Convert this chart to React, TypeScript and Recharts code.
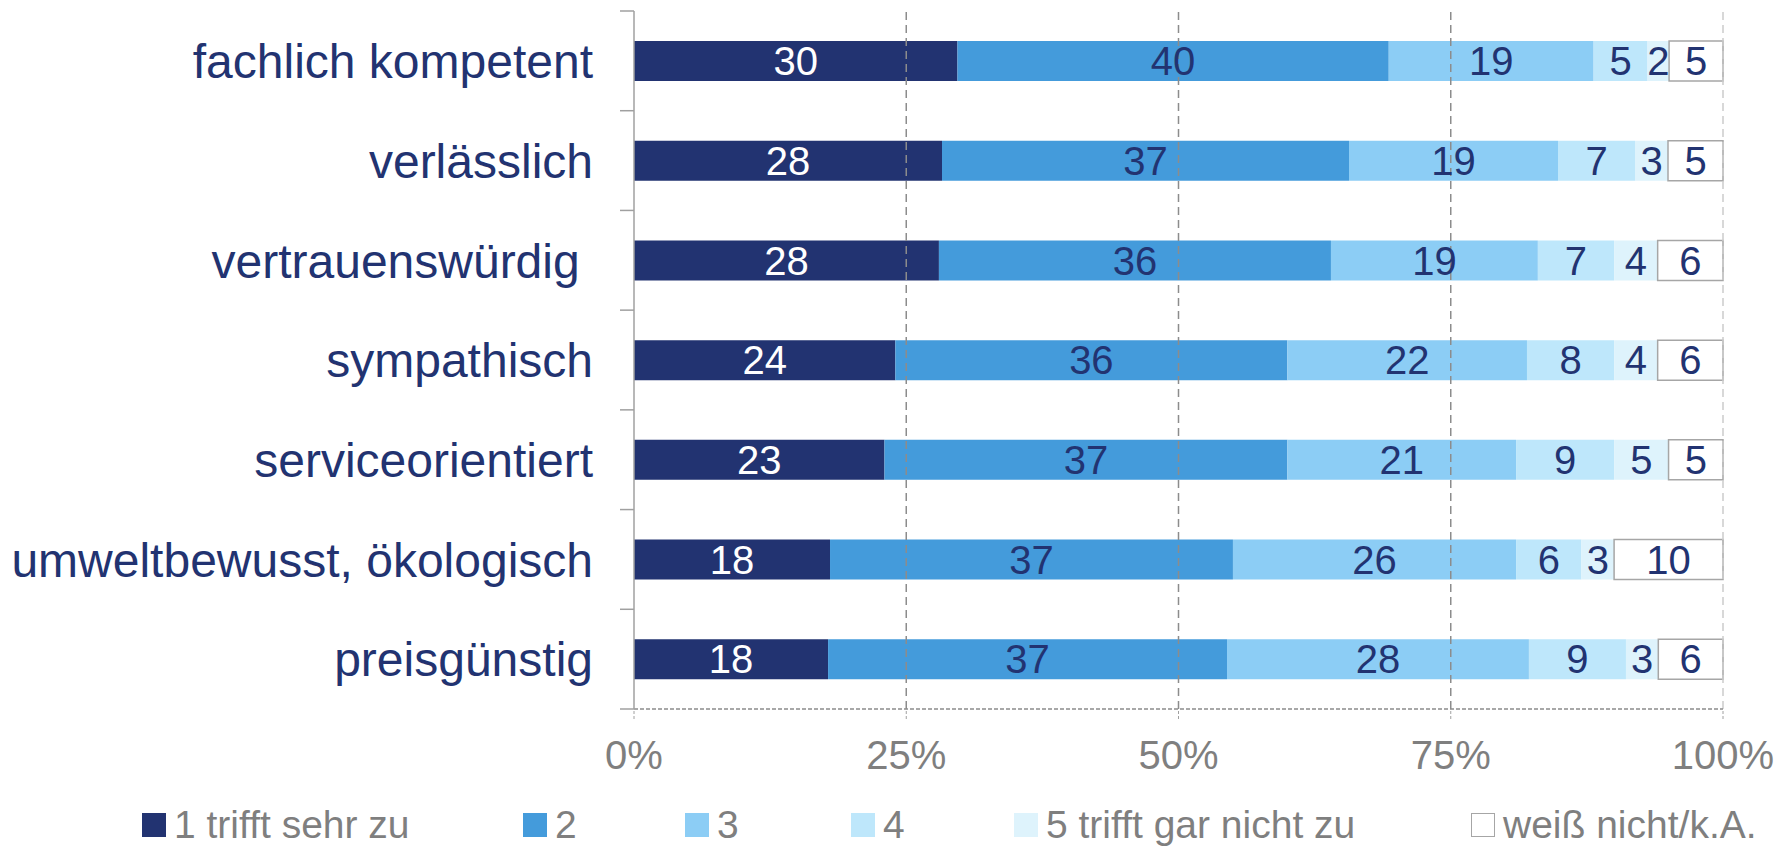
import { BarChart, Bar, XAxis, YAxis, ReferenceLine, LabelList, Legend } from 'recharts'

const categories = [
  'fachlich kompetent',
  'verlässlich',
  'vertrauenswürdig ',
  'sympathisch',
  'serviceorientiert',
  'umweltbewusst, ökologisch',
  'preisgünstig',
]

const s1 = [30, 28, 28, 24, 23, 18, 18]
const s2 = [40, 37, 36, 36, 37, 37, 37]
const s3 = [19, 19, 19, 22, 21, 26, 28]
const s4 = [5, 7, 7, 8, 9, 6, 9]
const s5 = [2, 3, 4, 4, 5, 3, 3]
const s6 = [5, 5, 6, 6, 5, 10, 6]

const seriesNames = ['1 trifft sehr zu', '2', '3', '4', '5 trifft gar nicht zu', 'weiß nicht/k.A.']
const xTicks = [0, 0.25, 0.5, 0.75, 1]

const data = categories.map((name, i) => ({
  name,
  s1: s1[i],
  s2: s2[i],
  s3: s3[i],
  s4: s4[i],
  s5: s5[i],
  s6: s6[i],
}))

const NAVY = '#223371'
const GRAY = '#7f7f7f'
const FONT = '"Liberation Sans", Arial, sans-serif'

const series = [
  { key: 's1', fill: NAVY, label: '#ffffff' },
  { key: 's2', fill: '#449bdb', label: NAVY },
  { key: 's3', fill: '#8ccdf5', label: NAVY },
  { key: 's4', fill: '#bee7fb', label: NAVY },
  { key: 's5', fill: '#def3fc', label: NAVY },
  { key: 's6', fill: '#ffffff', label: NAVY, stroke: '#a6a6a6' },
]

const legendLeft = [142, 523, 685, 851, 1014, 1471]

function YTick(props: any) {
  const { y, payload, index } = props
  const half = payload && payload.offset ? payload.offset : 49.8
  const axisX = 634
  return (
    <g>
      <line x1={axisX - 14} x2={axisX} y1={y - half} y2={y - half} stroke="#a0a0a0" strokeWidth={1.5} />
      {index === categories.length - 1 && (
        <line x1={axisX - 14} x2={axisX} y1={y + half} y2={y + half} stroke="#a0a0a0" strokeWidth={1.5} />
      )}
      <text
        x={593}
        y={y}
        dy="0.36em"
        textAnchor="end"
        fill={NAVY}
        fontSize={48}
        fontFamily={FONT}
        style={{ whiteSpace: 'pre' }}
      >
        {payload.value}
      </text>
    </g>
  )
}

function LegendContent() {
  return (
    <div style={{ position: 'relative', width: 1791, height: 46, fontFamily: FONT }}>
      {series.map((s, i) => (
        <div key={s.key} style={{ position: 'absolute', left: legendLeft[i], top: 13, height: 24, display: 'flex', alignItems: 'center' }}>
          <div
            style={{
              width: 24,
              height: 24,
              boxSizing: 'border-box',
              background: s.fill,
              border: s.stroke ? `1.5px solid ${s.stroke}` : 'none',
              marginRight: 8,
            }}
          />
          <span style={{ fontSize: 39, color: GRAY, lineHeight: '24px', whiteSpace: 'nowrap' }}>{seriesNames[i]}</span>
        </div>
      ))}
    </div>
  )
}

export default function App() {
  return (
    <div style={{ position: 'absolute', left: 0, top: 0, background: '#fff' }}>
      <BarChart
        width={1791}
        height={846}
        data={data}
        layout="vertical"
        stackOffset="expand"
        margin={{ top: 11, right: 68, bottom: 0, left: 0 }}
      >
        <XAxis
          type="number"
          domain={[0, 1]}
          ticks={xTicks}
          tickFormatter={(v: number) => `${Math.round(v * 100)}%`}
          axisLine={{ stroke: '#8c8c8c', strokeDasharray: '4 2', strokeWidth: 1.5 }}
          tickLine={{ stroke: '#a0a0a0', strokeDasharray: '3 2' }}
          tickSize={10}
          tickMargin={22}
          height={91}
          tick={{ fill: GRAY, fontSize: 40, fontFamily: FONT }}
        />
        <YAxis
          type="category"
          dataKey="name"
          width={634}
          interval={0}
          axisLine={{ stroke: '#a0a0a0', strokeWidth: 1.5 }}
          tickLine={false}
          tick={<YTick />}
        />
        {[0.25, 0.5, 0.75].map((v) => (
          <ReferenceLine key={v} x={v} stroke="#8c8c8c" strokeWidth={1.5} strokeDasharray="8 5" />
        ))}
        <ReferenceLine x={1} stroke="#cccccc" strokeWidth={1.5} strokeDasharray="8 5" />
        {series.map((s) => (
          <Bar
            key={s.key}
            dataKey={s.key}
            stackId="a"
            fill={s.fill}
            stroke={s.stroke}
            strokeWidth={s.stroke ? 1.5 : 0}
            barSize={40}
            isAnimationActive={false}
          >
            <LabelList dataKey={s.key} position="center" fill={s.label} fontSize={40} fontFamily={FONT} />
          </Bar>
        ))}
        <Legend verticalAlign="bottom" content={<LegendContent />} />
      </BarChart>
    </div>
  )
}
